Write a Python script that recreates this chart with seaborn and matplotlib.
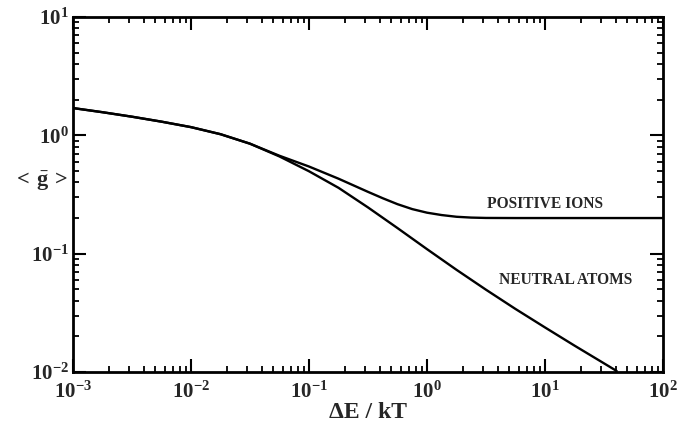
import numpy as np
import pandas as pd
import matplotlib
matplotlib.use("Agg")
import matplotlib.pyplot as plt
import seaborn as sns
from matplotlib.ticker import FixedLocator, FixedFormatter, LogLocator, NullFormatter

# ---- data ----
neutral_x = [0.001, 0.00178, 0.00316, 0.00562, 0.01, 0.0178, 0.0316, 0.0562, 0.1,
             0.178, 0.316, 0.562, 1.0, 1.78, 3.16, 5.62, 10.0, 17.8, 31.6, 40.5]
neutral_y = [1.70, 1.568, 1.437, 1.305, 1.173, 1.022, 0.850, 0.663, 0.497,
             0.360, 0.246, 0.1646, 0.1092, 0.0730, 0.0496, 0.0341, 0.0238, 0.0167, 0.01184, 0.0102]

ions_x = [0.001, 0.00178, 0.00316, 0.00562, 0.01, 0.0178, 0.0316, 0.0562, 0.1,
          0.178, 0.316, 0.422, 0.562, 0.75, 1.0, 1.33, 1.78, 2.37, 3.16, 5.62, 10.0, 100.0]
ions_y = [1.70, 1.568, 1.437, 1.305, 1.173, 1.022, 0.850, 0.672, 0.545,
          0.430, 0.333, 0.294, 0.262, 0.238, 0.222, 0.212, 0.205, 0.2018, 0.2004, 0.200, 0.200, 0.200]

series_names = ["NEUTRAL ATOMS", "POSITIVE IONS"]
label_pos = {"POSITIVE IONS": (10.0, 0.262), "NEUTRAL ATOMS": (15.1, 0.060)}

x_ticks = [1e-3, 1e-2, 1e-1, 1e0, 1e1, 1e2]
x_tick_labels = ["-3", "-2", "-1", "0", "1", "2"]
y_ticks = [1e-2, 1e-1, 1e0, 1e1]
y_tick_labels = ["-2", "-1", "0", "1"]

df = pd.concat([
    pd.DataFrame({"x": neutral_x, "y": neutral_y, "series": series_names[0]}),
    pd.DataFrame({"x": ions_x, "y": ions_y, "series": series_names[1]}),
], ignore_index=True)

sns.set_theme(style="ticks")
plt.rcParams["font.family"] = ["Liberation Serif", "DejaVu Serif"]
plt.rcParams["font.weight"] = "bold"
plt.rcParams["mathtext.fontset"] = "custom"
plt.rcParams["mathtext.rm"] = "Liberation Serif:bold"
plt.rcParams["mathtext.bf"] = "Liberation Serif:bold"
plt.rcParams["mathtext.it"] = "Liberation Serif:bold"

fig = plt.figure(figsize=(6.97, 4.21), dpi=100)
ax = fig.add_axes([73/697, 1 - 372/421, 590/697, 355/421])

sns.lineplot(data=df, x="x", y="y", hue="series", palette=["black", "black"],
             estimator=None, sort=True, linewidth=1.7, legend=False, ax=ax)
for ln in ax.lines:
    ln.set_solid_joinstyle("round")

ax.set_xscale("log")
ax.set_yscale("log")
ax.set_xlim(1e-3, 1e2)
ax.set_ylim(1e-2, 1e1)

ax.xaxis.set_major_locator(FixedLocator(x_ticks))
ax.xaxis.set_major_formatter(FixedFormatter([r"$\mathbf{10^{%s}}$" % s for s in x_tick_labels]))
ax.yaxis.set_major_locator(FixedLocator(y_ticks))
ax.yaxis.set_major_formatter(FixedFormatter([r"$\mathbf{10^{%s}}$" % s for s in y_tick_labels]))
ax.xaxis.set_minor_locator(LogLocator(base=10, subs=np.arange(2, 10), numticks=20))
ax.yaxis.set_minor_locator(LogLocator(base=10, subs=np.arange(2, 10), numticks=20))
ax.xaxis.set_minor_formatter(NullFormatter())
ax.yaxis.set_minor_formatter(NullFormatter())

ax.tick_params(which="both", direction="in", top=True, right=True, color="black")
ax.tick_params(which="major", length=9.5, width=1.5, labelsize=15)
ax.tick_params(axis="x", which="major", pad=7)
ax.tick_params(axis="y", which="major", pad=3)
ax.tick_params(which="minor", length=4.5, width=1.3)
for sp in ax.spines.values():
    sp.set_linewidth(2.0)
    sp.set_color("black")

ax.set_xlabel("ΔE / kT", fontsize=17, fontweight="bold", labelpad=-1)
ax.set_ylabel(r"$\mathbf{<\,\bar{g}\,>}$", fontsize=16, rotation=0)
ax.yaxis.set_label_coords(-0.055, 0.505)

for name in series_names:
    xx, yy = label_pos[name]
    ax.text(xx, yy, name, fontsize=11.2, fontweight="bold", ha="center", va="center")

fig.savefig("out.png", dpi=100)
